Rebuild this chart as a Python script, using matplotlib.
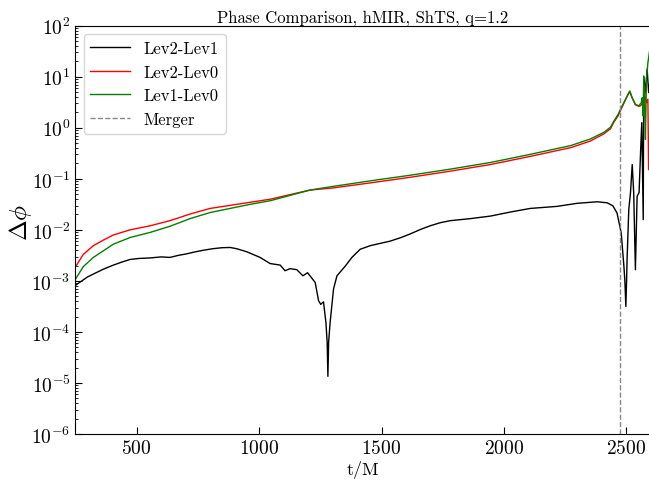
import numpy as np
import matplotlib
matplotlib.use("Agg")
import matplotlib.pyplot as plt

plt.rcParams['font.family'] = ['cmr10', 'DejaVu Serif']
plt.rcParams['mathtext.fontset'] = 'cm'
plt.rcParams['axes.formatter.use_mathtext'] = True

title = "Phase Comparison, hMIR, ShTS, q=1.2"
labels = ["Lev2-Lev1", "Lev2-Lev0", "Lev1-Lev0"]
colors = ["black", "red", "green"]
t_merger = 2476

# Lev2-Lev1 (log10 of delta phi)
t_21 = [252, 300, 364, 405, 440, 473, 510, 555, 600, 636, 670, 704, 740, 772, 810, 848, 882, 909, 950,
        1004, 1045, 1086, 1106, 1127, 1154, 1179, 1198, 1229, 1243, 1252, 1263, 1273, 1278, 1281, 1284,
        1290, 1304, 1318, 1352, 1379, 1413, 1454, 1481, 1536, 1580, 1617, 1660, 1699, 1740, 1781, 1863,
        1945, 2027, 2108, 2217, 2299, 2381, 2422, 2445, 2462, 2479, 2490, 2494, 2498, 2501, 2503, 2510,
        2517, 2524, 2530, 2537, 2544, 2552, 2558, 2563, 2569, 2571, 2578, 2585, 2591, 2596]
log_21 = [-3.08, -2.92, -2.77, -2.69, -2.63, -2.58, -2.56, -2.55, -2.53, -2.54, -2.50, -2.47, -2.43, -2.40,
          -2.37, -2.35, -2.345, -2.37, -2.43, -2.54, -2.66, -2.69, -2.80, -2.76, -2.78, -2.90, -2.84, -3.03,
          -3.39, -3.46, -3.41, -3.82, -4.2, -4.87, -4.2, -3.82, -3.16, -2.90, -2.71, -2.54, -2.38, -2.31,
          -2.28, -2.22, -2.15, -2.08, -1.99, -1.92, -1.86, -1.82, -1.78, -1.73, -1.65, -1.58, -1.54, -1.48,
          -1.45, -1.47, -1.53, -1.67, -2.06, -2.71, -3.0, -3.50, -3.0, -2.58, -1.60, -1.27, -0.72, -1.27,
          -2.78, -1.34, -1.27, -0.49, 0.10, -1.80, 1.01, 0.69, 1.15, 0.69, 0.90]

# Lev2-Lev0
t_20 = [252, 282, 323, 364, 405, 473, 555, 636, 718, 800, 882, 963, 1045, 1208, 1300, 1454, 1617, 1781,
        1945, 2108, 2272, 2353, 2408, 2435, 2449, 2466, 2483, 2503, 2514, 2524, 2537, 2551, 2558, 2565,
        2569, 2574, 2578, 2582, 2588, 2591, 2596]
log_20 = [-2.71, -2.48, -2.31, -2.20, -2.10, -2.00, -1.92, -1.82, -1.69, -1.58, -1.52, -1.46, -1.40, -1.22,
          -1.18, -1.08, -0.97, -0.85, -0.72, -0.56, -0.39, -0.26, -0.12, -0.02, 0.11, 0.23, 0.41, 0.61,
          0.71, 0.58, 0.45, 0.42, 0.43, 0.47, 0.49, 0.82, 0.55, 0.49, 0.56, -0.82, -0.82]

# Lev1-Lev0
t_10 = [252, 282, 323, 364, 405, 473, 555, 636, 718, 800, 882, 963, 1045, 1208, 1300, 1454, 1617, 1781,
        1945, 2108, 2272, 2353, 2408, 2435, 2449, 2466, 2483, 2503, 2514, 2524, 2537, 2551, 2561, 2565,
        2569, 2571, 2575, 2578, 2582, 2588, 2596]
log_10 = [-2.95, -2.72, -2.54, -2.41, -2.28, -2.15, -2.05, -1.93, -1.78, -1.66, -1.58, -1.50, -1.43, -1.22,
          -1.15, -1.04, -0.93, -0.81, -0.68, -0.52, -0.35, -0.22, -0.09, 0.01, 0.13, 0.26, 0.43, 0.62,
          0.72, 0.59, 0.46, 0.43, 0.49, 0.59, 0.23, 1.01, 0.30, -0.23, 0.95, 1.27, 1.54]

fig = plt.figure(figsize=(6.49, 4.81), dpi=100)
ax = fig.add_axes([0.1163, 0.0956, 0.8850, 0.8489])

series = [(t_21, log_21), (t_20, log_20), (t_10, log_10)]
for (t, lg), lab, c in zip(series, labels, colors):
    ax.plot(t, 10.0 ** np.array(lg), color=c, lw=1.0, label=lab)
ax.axvline(t_merger, color='#888888', ls='--', lw=1.0, label='Merger')

ax.set_yscale('log')
ax.set_xlim(250, 2596)
ax.set_ylim(1e-6, 1e2)
ax.set_xticks([500, 1000, 1500, 2000, 2500])
ax.tick_params(axis='both', which='both', direction='in', labelsize=14)
ax.tick_params(axis='both', which='major', length=5)
ax.tick_params(axis='both', which='minor', length=2.5)
ax.spines['right'].set_visible(False)

ax.set_xlabel('t/M', fontsize=13, labelpad=2)
ax.set_ylabel(r'$\Delta\phi$', fontsize=18)
ax.yaxis.set_label_coords(-0.073, 0.52)
ax.set_title(title, fontsize=12, pad=3)
ax.legend(loc='upper left', fontsize=12, frameon=True, handlelength=2.4)

fig.savefig('out.png', dpi=100)
